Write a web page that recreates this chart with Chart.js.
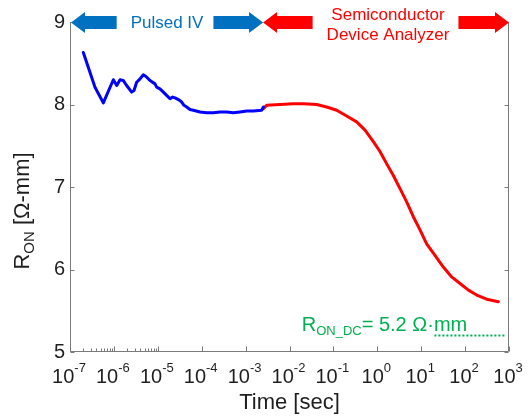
<!DOCTYPE html>
<html>
<head>
<meta charset="utf-8">
<title>R_ON vs Time</title>
<script src="https://cdn.jsdelivr.net/npm/chart.js@4.4.0/dist/chart.umd.min.js"></script>
<style>
    html, body { margin: 0; padding: 0; background: #ffffff; }
    #chart-container { width: 532px; height: 416px; }
</style>
</head>
<body>
<div id="chart-container"><canvas id="ronChart" width="532" height="416"></canvas></div>
<script>
// Pulsed IV measurement (time in seconds, R_ON in ohm-mm)
var pulsedTime = [2.01e-7, 3.71e-7, 5.74e-7, 9.7e-7, 1.16e-6, 1.38e-6, 1.64e-6, 1.95e-6, 2.54e-6, 2.87e-6,
    3.30e-6, 3.94e-6, 4.68e-6, 5.38e-6, 6.64e-6, 8.63e-6, 9.42e-6, 1.12e-5, 1.34e-5, 1.59e-5,
    1.90e-5, 2.18e-5, 2.47e-5, 2.94e-5, 3.50e-5, 3.95e-5, 4.55e-5, 5.41e-5, 6.44e-5, 9.14e-5,
    1.30e-4, 1.84e-4, 2.61e-4, 3.71e-4, 5.26e-4, 7.45e-4, 1.06e-3, 1.50e-3, 2.32e-3, 2.54e-3];
var pulsedRon = [8.63, 8.21, 8.02, 8.30, 8.23, 8.30, 8.29, 8.23, 8.15, 8.17,
    8.27, 8.31, 8.36, 8.34, 8.29, 8.25, 8.21, 8.19, 8.15, 8.11,
    8.07, 8.09, 8.08, 8.06, 8.03, 7.99, 7.97, 7.94, 7.93, 7.91,
    7.90, 7.90, 7.91, 7.91, 7.90, 7.91, 7.92, 7.92, 7.93, 7.97];

// Semiconductor device analyzer measurement
var sdaTime = [2.54e-3, 3.02e-3, 6.08e-3, 1.22e-2, 2.07e-2, 4.16e-2, 7.02e-2, 0.119, 0.200, 0.339,
    0.525, 0.813, 1.15, 1.64, 2.32, 3.29, 4.67, 6.62, 9.40, 13.3,
    20.6, 31.9, 49.4, 76.6, 119, 184, 310, 571];
var sdaRon = [7.95, 7.99, 8.00, 8.01, 8.01, 8.00, 7.97, 7.93, 7.86, 7.79,
    7.69, 7.55, 7.43, 7.28, 7.14, 6.98, 6.82, 6.64, 6.48, 6.31,
    6.17, 6.03, 5.91, 5.83, 5.75, 5.69, 5.64, 5.61];

// DC on-resistance reference level
var dcTime = [20, 810];
var dcRon = [5.2, 5.2];
var dcLabelTime = 0.019;   // where the R_ON_DC label starts
var dcLabelRon = 5.25;     // label baseline

// Time ranges covered by each measurement setup
var pulsedRange = [1e-7, 2.5e-3];
var sdaRange = [2.5e-3, 1e3];

// Axis ticks
var yTickValues = [5, 6, 7, 8, 9];
var xExponents = [-7, -6, -5, -4, -3, -2, -1, 0, 1, 2, 3];
var minorDecades = [-7, -6];

var FONT = "'Liberation Sans', Arial, sans-serif";
var AXIS_COLOR = "#7a7a7a";
var TEXT_COLOR = "#1f1f1f";

// Function to zip two arrays into {x, y} points
function toPoints(xs, ys) {
    return xs.map(function (x, i) {
        return { x: x, y: ys[i] };
    });
}

// Function to draw a block arrow from its tail to its tip
function drawArrow(ctx, tipX, tailX, y, color) {
    var dir = tailX > tipX ? 1 : -1;
    var headLen = 14, headHalf = 10.5, barHalf = 6.5;
    var hx = tipX + dir * headLen;
    ctx.fillStyle = color;
    ctx.beginPath();
    ctx.moveTo(tipX, y);
    ctx.lineTo(hx, y - headHalf);
    ctx.lineTo(hx, y - barHalf);
    ctx.lineTo(tailX, y - barHalf);
    ctx.lineTo(tailX, y + barHalf);
    ctx.lineTo(hx, y + barHalf);
    ctx.lineTo(hx, y + headHalf);
    ctx.closePath();
    ctx.fill();
}

// Function to draw text made of normal / subscript / superscript pieces
function drawRich(ctx, parts, x, y) {
    parts.forEach(function (p) {
        ctx.font = p.size + "px " + FONT;
        ctx.fillText(p.text, x, y + (p.shift || 0));
        x += ctx.measureText(p.text).width;
    });
    return x;
}

function richWidth(ctx, parts) {
    var w = 0;
    parts.forEach(function (p) {
        ctx.font = p.size + "px " + FONT;
        w += ctx.measureText(p.text).width;
    });
    return w;
}

// Plugin for the box, inward ticks, exponent labels and the measurement arrows
var decorPlugin = {
    id: "decor",
    afterDraw: function (chart) {
        var ctx = chart.ctx;
        var area = chart.chartArea;
        var xs = chart.scales.x;
        var ys = chart.scales.y;
        ctx.save();

        // Axis box (left, bottom, right)
        var L = Math.round(area.left) + 0.5;
        var R = Math.round(area.right) - 0.5;
        var B = Math.round(area.bottom) - 0.5;
        var T = Math.round(area.top);
        ctx.strokeStyle = AXIS_COLOR;
        ctx.lineWidth = 1;
        ctx.beginPath();
        ctx.moveTo(L, T);
        ctx.lineTo(L, B);
        ctx.lineTo(R, B);
        ctx.lineTo(R, T);
        ctx.stroke();

        // Inward y ticks on both sides
        ctx.beginPath();
        yTickValues.forEach(function (v) {
            var py = Math.round(ys.getPixelForValue(v)) + 0.5;
            ctx.moveTo(L, py); ctx.lineTo(L + 4, py);
            ctx.moveTo(R, py); ctx.lineTo(R - 4, py);
        });
        // Inward x ticks: decades and a few minor ones
        xExponents.forEach(function (e) {
            var px = Math.round(xs.getPixelForValue(Math.pow(10, e))) + 0.5;
            ctx.moveTo(px, B); ctx.lineTo(px, B - 5);
        });
        minorDecades.forEach(function (e) {
            for (var m = 2; m <= 9; m++) {
                var px = Math.round(xs.getPixelForValue(m * Math.pow(10, e))) + 0.5;
                ctx.moveTo(px, B); ctx.lineTo(px, B - 3);
            }
        });
        ctx.stroke();

        // x tick labels as 10^n
        ctx.fillStyle = TEXT_COLOR;
        ctx.textBaseline = "alphabetic";
        ctx.textAlign = "left";
        xExponents.forEach(function (e) {
            var parts = [
                { text: "10", size: 20 },
                { text: String(e), size: 13, shift: -11 }
            ];
            var cx = xs.getPixelForValue(Math.pow(10, e));
            drawRich(ctx, parts, cx - richWidth(ctx, parts) / 2 - 1, 383);
        });

        // x axis title
        ctx.font = "22px " + FONT;
        ctx.textAlign = "center";
        ctx.fillText("Time [sec]", (area.left + area.right) / 2, 409);

        // y axis title, rotated
        var yParts = [
            { text: "R", size: 22 },
            { text: "ON", size: 15, shift: 5 },
            { text: " [\u03A9-mm]", size: 22 }
        ];
        ctx.save();
        ctx.translate(29, 211);
        ctx.rotate(-Math.PI / 2);
        ctx.textAlign = "left";
        drawRich(ctx, yParts, -richWidth(ctx, yParts) / 2, 0);
        ctx.restore();

        // R_ON_DC label
        ctx.fillStyle = "#00b050";
        ctx.textAlign = "left";
        drawRich(ctx, [
            { text: "R", size: 20 },
            { text: "ON_DC", size: 13, shift: 4 },
            { text: "= 5.2 \u03A9\u00B7mm", size: 20 }
        ], xs.getPixelForValue(dcLabelTime), ys.getPixelForValue(dcLabelRon));

        // Measurement range arrows along the top
        var arrowY = area.top + 0.5;
        ctx.font = "17px " + FONT;
        ctx.textAlign = "center";
        ctx.textBaseline = "middle";

        var p0 = xs.getPixelForValue(pulsedRange[0]) + 1;
        var p1 = xs.getPixelForValue(pulsedRange[1]);
        var pc = (p0 + p1) / 2;
        var pw = ctx.measureText("Pulsed IV").width;
        drawArrow(ctx, p0, pc - pw / 2 - 14, arrowY, "#0070c0");
        drawArrow(ctx, p1, pc + pw / 2 + 10, arrowY, "#0070c0");
        ctx.fillStyle = "#0070c0";
        ctx.fillText("Pulsed IV", pc, arrowY + 1);

        var s0 = xs.getPixelForValue(sdaRange[0]);
        var s1 = xs.getPixelForValue(sdaRange[1]);
        var sc = (s0 + s1) / 2 + 2;
        var sw = ctx.measureText("Device Analyzer").width;
        drawArrow(ctx, s0, sc - sw / 2 - 14, arrowY, "#ff0000");
        drawArrow(ctx, s1, sc + sw / 2 + 9, arrowY, "#ff0000");
        ctx.fillStyle = "#ff0000";
        ctx.fillText("Semiconductor", sc, 15);
        ctx.fillText("Device Analyzer", sc, 35);

        ctx.restore();
    }
};

var ctx = document.getElementById("ronChart").getContext("2d");

new Chart(ctx, {
    type: "line",
    data: {
        datasets: [
            {
                label: "Pulsed IV",
                data: toPoints(pulsedTime, pulsedRon),
                borderColor: "#0000ff",
                borderWidth: 3,
                pointRadius: 0,
                tension: 0,
                borderJoinStyle: "round",
                borderCapStyle: "round"
            },
            {
                label: "Semiconductor Device Analyzer",
                data: toPoints(sdaTime, sdaRon),
                borderColor: "#ff0000",
                borderWidth: 3,
                pointRadius: 0,
                tension: 0,
                borderJoinStyle: "round",
                borderCapStyle: "round"
            },
            {
                label: "R_ON_DC",
                data: toPoints(dcTime, dcRon),
                borderColor: "#00b050",
                borderWidth: 2,
                borderDash: [2, 2],
                pointRadius: 0
            }
        ]
    },
    options: {
        responsive: false,
        animation: false,
        devicePixelRatio: 1,
        layout: {
            padding: { top: 22, right: 23, left: 0, bottom: 0 }
        },
        plugins: {
            legend: { display: false },
            tooltip: { enabled: false }
        },
        scales: {
            x: {
                type: "logarithmic",
                min: 1e-7,
                max: 1e3,
                ticks: { display: false },
                grid: { display: false, drawTicks: false },
                border: { display: false },
                afterFit: function (scale) { scale.height = 64; }
            },
            y: {
                min: 5,
                max: 9,
                ticks: {
                    stepSize: 1,
                    padding: 5,
                    color: TEXT_COLOR,
                    font: { family: FONT, size: 20 }
                },
                grid: { display: false, drawTicks: false },
                border: { display: false },
                afterFit: function (scale) { scale.width = 70; }
            }
        }
    },
    plugins: [decorPlugin]
});
</script>
</body>
</html>
